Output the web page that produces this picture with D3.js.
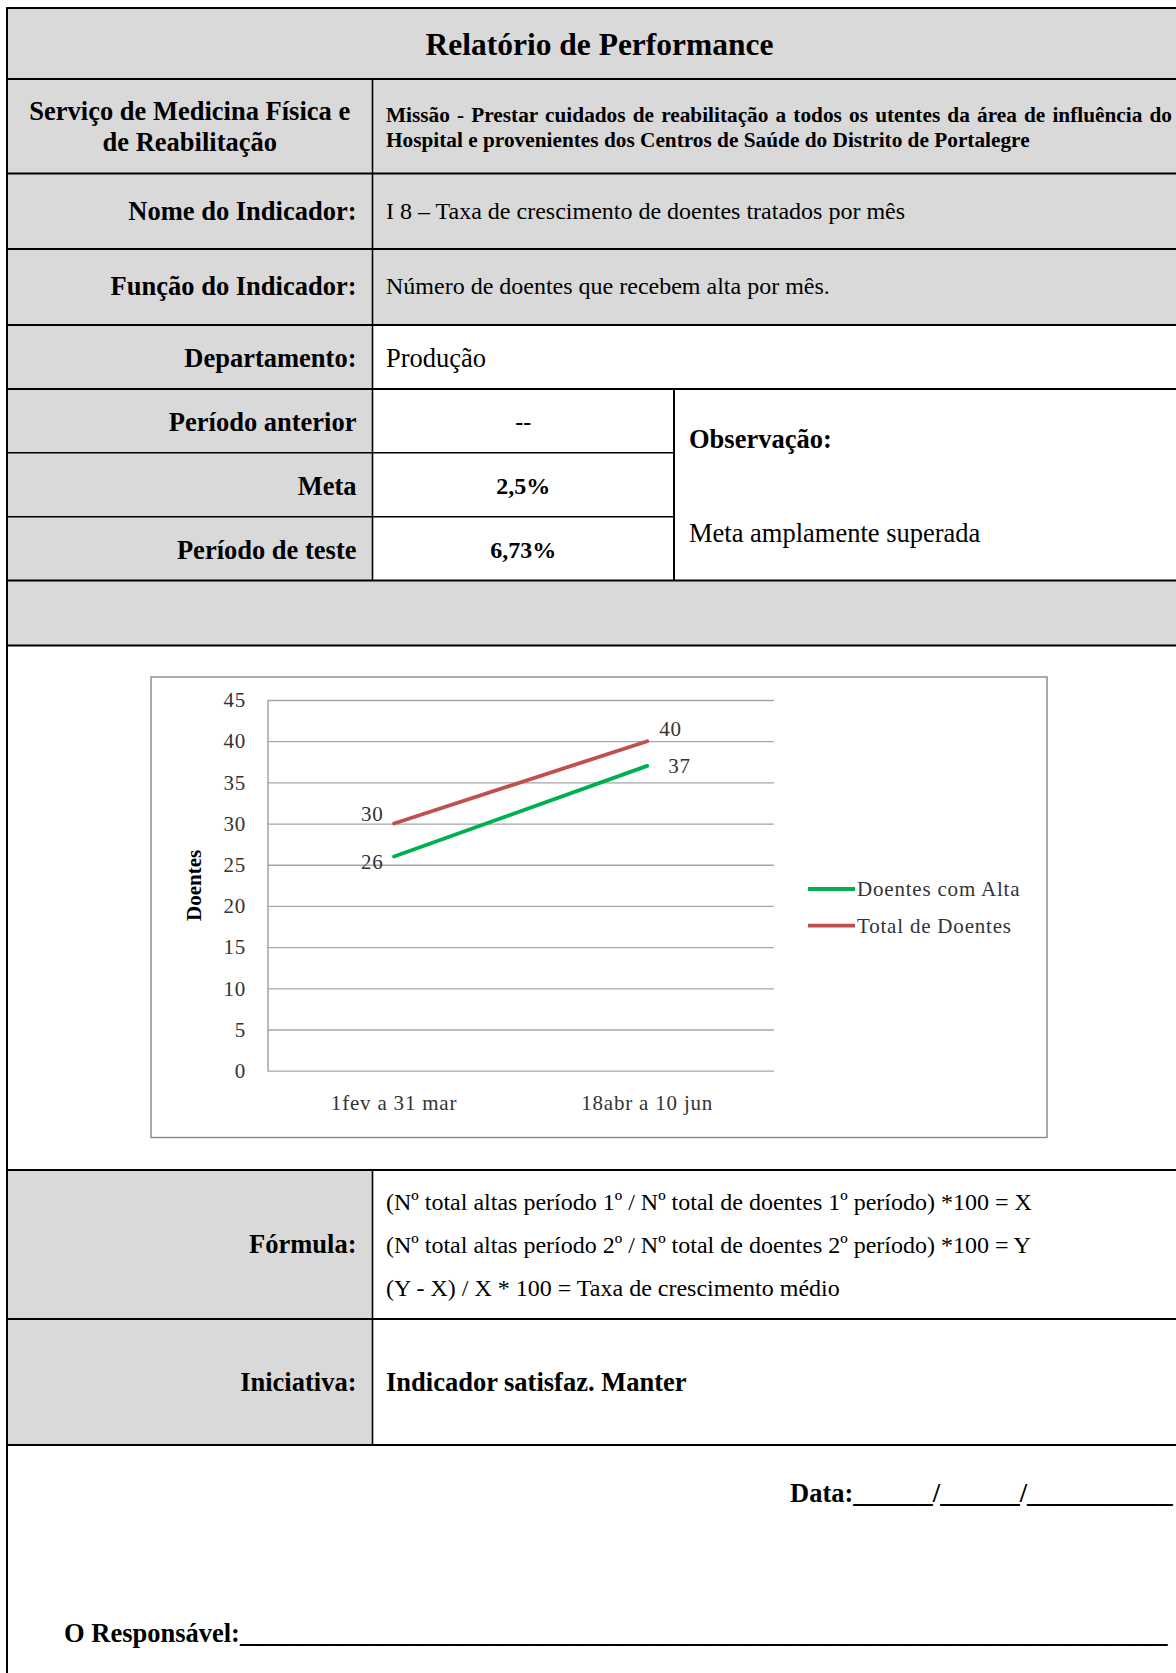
<!DOCTYPE html>
<html>
<head>
<meta charset="utf-8">
<script src="https://cdn.jsdelivr.net/npm/d3@7"></script>
<style>
  html, body { margin: 0; padding: 0; background: #fff; }
  svg { display: block; font-family: "Liberation Serif", "Times New Roman", serif; }
</style>
</head>
<body>
<svg id="page" width="1176" height="1673"></svg>
<script>
// ---- chart data ----
const categories = ["1fev a 31 mar", "18abr a 10 jun"];
const doentesComAlta = [26, 37];
const totalDoentes = [30, 40];
const seriesNames = ["Doentes com Alta", "Total de Doentes"];
const yTickValues = [0, 5, 10, 15, 20, 25, 30, 35, 40, 45];
const yAxisTitle = "Doentes";

// ---- report text ----
const reportTitle = "Relatório de Performance";
const serviceLines = ["Serviço de Medicina Física e", "de Reabilitação"];
const missionLines = [
  "Missão - Prestar cuidados de reabilitação a todos os utentes da área de influência do",
  "Hospital e provenientes dos Centros de Saúde do Distrito de Portalegre"
];
const indicatorName = "I 8 – Taxa de crescimento de doentes tratados por mês";
const indicatorFunction = "Número de doentes que recebem alta por mês.";
const department = "Produção";
const periodLabels = ["Período anterior", "Meta", "Período de teste"];
const periodValues = ["--", "2,5%", "6,73%"];
const observationTitle = "Observação:";
const observationText = "Meta amplamente superada";
const formulaLines = [
  "(Nº total altas período 1º / Nº total de doentes 1º período) *100 = X",
  "(Nº total altas período 2º / Nº total de doentes 2º período) *100 = Y",
  "(Y - X) / X * 100 = Taxa de crescimento médio"
];
const initiative = "Indicador satisfaz. Manter";

const svg = d3.select("#page");
const GRAY = "#d9d9d9";

// ---- table geometry ----
const L = 7, R = 1192, colA = 372.5, colB = 674;
const rowY = { top: 8, r1: 79, r2: 173.5, r3: 249, r4: 325, r5: 389, p1: 452.7, p2: 516.7,
               r6: 580.5, r7: 645.5, r8: 1170, r9: 1319, r10: 1445, end: 1673 };
const labelRight = 356.5, valueLeft = 386;

const bg = svg.append("g");
function fill(x0, y0, x1, y1, c) {
  bg.append("rect").attr("x", x0).attr("y", y0).attr("width", x1 - x0).attr("height", y1 - y0).attr("fill", c);
}
fill(L, rowY.top, R, rowY.r4, GRAY);
fill(L, rowY.r4, colA, rowY.r6, GRAY);
fill(L, rowY.r6, R, rowY.r7, GRAY);
fill(L, rowY.r8, colA, rowY.r10, GRAY);

const lines = svg.append("g").attr("stroke", "#000");
function hl(y, x0, x1, w) { lines.append("line").attr("x1", x0).attr("x2", x1).attr("y1", y).attr("y2", y).attr("stroke-width", w); }
function vl(x, y0, y1, w) { lines.append("line").attr("x1", x).attr("x2", x).attr("y1", y0).attr("y2", y1).attr("stroke-width", w); }
["top", "r1", "r2", "r3", "r4", "r5", "r6", "r7", "r8", "r9", "r10"].forEach(k => hl(rowY[k], L - 1, R, 2));
hl(rowY.p1, L, colB, 1.6);
hl(rowY.p2, L, colB, 1.6);
vl(L, rowY.top - 1, rowY.end, 2);
vl(colA, rowY.r1, rowY.r6, 1.6);
vl(colA, rowY.r8, rowY.r10, 1.6);
vl(colB, rowY.r5, rowY.r6, 2);

const txt = svg.append("g").attr("fill", "#000");
function text(x, y, s, size, bold, anchor) {
  return txt.append("text").attr("x", x).attr("y", y)
    .attr("dominant-baseline", "central")
    .attr("text-anchor", anchor || "start")
    .attr("font-size", size).attr("font-weight", bold ? "bold" : "normal")
    .text(s);
}

text((L + R) / 2, 44.5, reportTitle, 31.5, true, "middle");
serviceLines.forEach((s, i) => text((L + colA) / 2, 111 + i * 31, s, 26.5, true, "middle"));
missionLines.forEach((s, i) => {
  const t = text(valueLeft, 115 + i * 24.5, s, 21.3, true);
  if (i === 0) {
    // justify first line of the mission paragraph
    const natural = t.node().getComputedTextLength();
    const spaces = s.split(" ").length - 1;
    t.attr("word-spacing", (1172 - valueLeft - natural) / spaces);
  }
});
text(labelRight, 211, "Nome do Indicador:", 26.5, true, "end");
text(valueLeft, 211, indicatorName, 24, false);
text(labelRight, 286, "Função do Indicador:", 26.5, true, "end");
text(valueLeft, 286, indicatorFunction, 24, false);
text(labelRight, 357.5, "Departamento:", 26.5, true, "end");
text(valueLeft, 357.5, department, 26.5, false);

const periodCy = [421.5, 485.6, 549.6];
periodLabels.forEach((s, i) => {
  text(labelRight, periodCy[i], s, 26.5, true, "end");
  text((colA + colB) / 2, periodCy[i], periodValues[i], 24, true, "middle");
});
text(689, 438.6, observationTitle, 26.5, true);
text(689, 532.5, observationText, 26.5, false);

text(labelRight, 1244, "Fórmula:", 26.5, true, "end");
formulaLines.forEach((s, i) => text(valueLeft, 1201.5 + i * 43.2, s, 24, false));
text(labelRight, 1382, "Iniciativa:", 26.5, true, "end");
text(valueLeft, 1382, initiative, 26.5, true);

// signature lines: trailing underscores run up to the right edge of the page
function signatureLine(x, y, head, limit) {
  let s = head + "_".repeat(120);
  const t = text(x, y, s, 26.5, true);
  while (x + t.node().getComputedTextLength() > limit && s.length > head.length) {
    s = s.slice(0, -1);
    t.text(s);
  }
  return t;
}
signatureLine(790, 1493, "Data:______/______/", 1174);
signatureLine(64, 1633, "O Responsável:", 1174);

// ---- line chart ----
const frame = { x0: 151, y0: 677, x1: 1047, y1: 1137.5 };
const plot = { x0: 267.5, x1: 773.8, y0: 700, y1: 1070.7 };

const chart = svg.append("g");
chart.append("rect")
  .attr("x", frame.x0).attr("y", frame.y0)
  .attr("width", frame.x1 - frame.x0).attr("height", frame.y1 - frame.y0)
  .attr("fill", "#fff").attr("stroke", "#888").attr("stroke-width", 1.4);

const x = d3.scalePoint().domain(categories).range([plot.x0, plot.x1]).padding(0.5);
const y = d3.scaleLinear().domain([0, 45]).range([plot.y1, plot.y0]);

const chartFont = 21, chartSpacing = 0.8, chartInk = "#333";

const yAxis = chart.append("g")
  .attr("transform", `translate(${plot.x0},0)`)
  .call(d3.axisLeft(y).tickValues(yTickValues)
    .tickSizeInner(-(plot.x1 - plot.x0)).tickSizeOuter(0).tickPadding(21.5));
yAxis.select(".domain").attr("stroke", "#8c8c8c").attr("stroke-width", 1.2);
yAxis.selectAll(".tick line").attr("stroke", "#a6a6a6").attr("stroke-width", 1.3);
yAxis.selectAll(".tick text")
  .attr("font-family", "Liberation Serif, serif")
  .attr("font-size", chartFont).attr("letter-spacing", chartSpacing)
  .attr("fill", chartInk);

chart.append("text")
  .attr("transform", `translate(194,${(plot.y0 + plot.y1) / 2}) rotate(-90)`)
  .attr("text-anchor", "middle").attr("dominant-baseline", "central")
  .attr("font-size", 21).attr("font-weight", "bold").attr("fill", "#000")
  .text(yAxisTitle);

chart.selectAll("text.xcat").data(categories).join("text")
  .attr("class", "xcat")
  .attr("x", d => x(d)).attr("y", 1103)
  .attr("text-anchor", "middle").attr("dominant-baseline", "central")
  .attr("font-size", chartFont).attr("letter-spacing", chartSpacing).attr("fill", chartInk)
  .text(d => d);

const series = [
  { name: seriesNames[0], values: doentesComAlta, color: "#00b050",
    // label placement per point: [dx, dy, anchor]
    labels: [[-10.5, 5, "end"], [21, 0, "start"]] },
  { name: seriesNames[1], values: totalDoentes, color: "#c0504d",
    labels: [[-10.5, -10, "end"], [12, -12, "start"]] }
];

const line = d3.line().x((d, i) => x(categories[i])).y(d => y(d));

series.forEach(s => {
  chart.append("path").datum(s.values)
    .attr("d", line).attr("fill", "none")
    .attr("stroke", s.color).attr("stroke-width", 3.8).attr("stroke-linecap", "round");
  chart.selectAll(null).data(s.values).join("text")
    .attr("x", (d, i) => x(categories[i]) + s.labels[i][0])
    .attr("y", d => y(d))
    .attr("dy", (d, i) => s.labels[i][1])
    .attr("text-anchor", (d, i) => s.labels[i][2])
    .attr("dominant-baseline", "central")
    .attr("font-size", chartFont).attr("letter-spacing", chartSpacing).attr("fill", chartInk)
    .text(d => d);
});

// legend
const legend = chart.append("g");
series.forEach((s, i) => {
  const ly = 889 + i * 36.7;
  legend.append("line").attr("x1", 808).attr("x2", 855).attr("y1", ly).attr("y2", ly)
    .attr("stroke", s.color).attr("stroke-width", 3.8);
  legend.append("text").attr("x", 857).attr("y", ly)
    .attr("dominant-baseline", "central")
    .attr("font-size", chartFont).attr("letter-spacing", chartSpacing).attr("fill", chartInk)
    .text(s.name);
});
</script>
</body>
</html>
